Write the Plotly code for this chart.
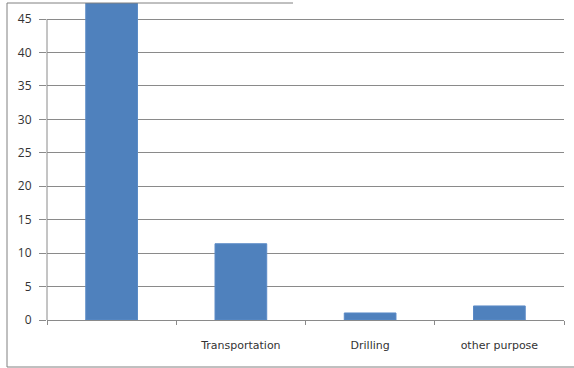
import plotly.graph_objects as go

# Usage categories (first one carries no printed label) and their shares
categories = [" ", "Transportation", "Drilling", "other purpose"]
values = [48, 11.4, 1.05, 2.1]

# Value axis ticks
y_ticks = [0, 5, 10, 15, 20, 25, 30, 35, 40, 45]
y_max = 47.4

W, H = 574, 368
ML, MR, MT, MB = 47, 10, 3, 48
PW, PH = W - ML - MR, H - MT - MB


def px_x(p):
    return (p - ML) / PW


def px_y(p):
    return (H - MB - p) / PH


grid = "#8a8a8a"
frame = "#808080"

fig = go.Figure(
    go.Bar(
        x=categories,
        y=values,
        width=0.4,
        marker=dict(color="#4f81bd", line=dict(color="#5a8ac6", width=1)),
    )
)

shapes = [
    # value axis line, from 0 up to the top tick
    dict(type="line", xref="paper", yref="y", x0=0, x1=0, y0=0, y1=y_ticks[-1],
         line=dict(color=grid, width=1)),
    # outer frame: left, bottom, partial top
    dict(type="line", xref="paper", yref="paper", x0=px_x(7), x1=px_x(7),
         y0=px_y(367), y1=px_y(3), line=dict(color=frame, width=1)),
    dict(type="line", xref="paper", yref="paper", x0=px_x(7), x1=px_x(574),
         y0=px_y(367), y1=px_y(367), line=dict(color=frame, width=1)),
    dict(type="line", xref="paper", yref="paper", x0=px_x(7), x1=px_x(293),
         y0=px_y(3), y1=px_y(3), line=dict(color=frame, width=1)),
]

fig.update_layout(
    width=W,
    height=H,
    margin=dict(l=ML, r=MR, t=MT, b=MB, pad=0),
    paper_bgcolor="white",
    plot_bgcolor="white",
    showlegend=False,
    shapes=shapes,
    bargap=0.6,
)

fig.update_xaxes(
    type="category",
    showgrid=False,
    showline=True,
    linecolor=grid,
    linewidth=1,
    ticks="outside",
    ticklen=4,
    tickcolor=grid,
    tickson="boundaries",
    ticklabelstandoff=15,
    tickfont=dict(family="DejaVu Sans", size=11, color="#333333"),
    fixedrange=True,
)

fig.update_yaxes(
    range=[0, y_max],
    tickvals=y_ticks,
    showgrid=True,
    gridcolor=grid,
    gridwidth=1,
    zeroline=False,
    showline=False,
    ticks="outside",
    ticklen=7,
    tickcolor=grid,
    ticklabelstandoff=5,
    tickfont=dict(family="Open Sans", size=12, color="#333333"),
    fixedrange=True,
)

fig.write_html("out.html")
